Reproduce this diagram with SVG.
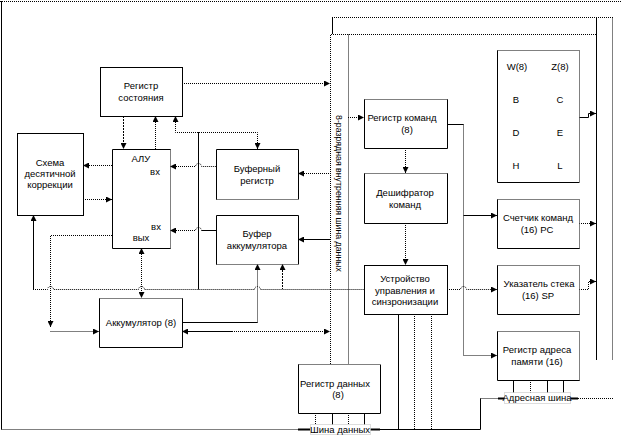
<svg xmlns="http://www.w3.org/2000/svg" width="621" height="436" viewBox="0 0 621 436">
<style>
.s{fill:none;stroke:#000;stroke-width:1}
.d{fill:none;stroke:#000;stroke-width:1;stroke-dasharray:1 1}
.ds{fill:none;stroke:#000;stroke-width:1;stroke-dasharray:2 1}
.t{stroke:#000;stroke-width:2;fill:none}
.bg{fill:#fff;stroke:none}
text{font-family:"Liberation Sans",Arial,sans-serif;font-size:9.5px;fill:#000;text-anchor:middle}
.lb{fill:#fff;stroke:#bbb;stroke-width:1;stroke-dasharray:1 1}
</style>
<defs>
<marker id="a" viewBox="0 0 6 6" refX="6" refY="3" markerWidth="6" markerHeight="6" markerUnits="userSpaceOnUse" orient="auto-start-reverse">
<path d="M0,0 L6,3 L0,6 Z" fill="#000" stroke="none"/>
</marker>
</defs>
<rect width="621" height="436" fill="#fff"/>

<g id="frame">
<path class="d" d="M0,1.5 H621"/>
<path class="s" d="M1.5,1 V429.5"/>
<path class="d" d="M1.5,429.5 H298"/>
<path class="t" d="M298,429.5 H310"/>
<path class="s" d="M370,429.5 H480.5 V398.5"/>
<path class="t" d="M370,429.5 H380"/>
<path class="d" d="M480.5,398.5 H498"/>
<path class="t" d="M498,398.5 H505 M570,398.5 H578"/>
<path class="d" d="M578,398.5 H613"/>
</g>

<g id="bus">
<path class="s" d="M332.5,34 V17.5"/>
<path class="d" d="M332,17.5 H613"/>
<path class="d" d="M330.5,364 V34.5 H596"/>
<path class="d" d="M348.5,34.5 V364"/>
<path class="d" d="M612.5,17.5 V360"/>
<path class="s" d="M596.5,17 V360"/>
<text transform="translate(335.5,115) rotate(90)" style="text-anchor:start;font-size:9px" textLength="157" lengthAdjust="spacingAndGlyphs">8-разрядная внутренняя шина данных</text>
</g>

<g id="connectors">
<path class="d" d="M182,83.5 H330" marker-end="url(#a)"/>
<path class="ds" d="M123.5,116 V149" marker-end="url(#a)"/>
<path class="d" d="M155.5,149 V116" marker-end="url(#a)"/>
<path class="d" d="M175.5,116 V132.5 H257.5 V149" marker-start="url(#a)" marker-end="url(#a)"/>
<path class="s" d="M198.5,132 V289.5"/>
<path class="d" d="M170,166.5 H195.5 a3,3 0 0 1 6,0 H216" marker-start="url(#a)"/>
<path class="d" d="M170,230.5 H195.5 a3,3 0 0 1 6,0"/>
<path class="s" d="M170,230.5 H171" marker-start="url(#a)"/>
<path class="s" d="M201.5,230.5 H216"/>
<path class="d" d="M298,173.5 H330" marker-start="url(#a)"/>
<path class="s" d="M298,239.5 H330" marker-start="url(#a)"/>
<path class="d" d="M83,165.5 H112" marker-start="url(#a)"/>
<path class="d" d="M83,199.5 H112" marker-end="url(#a)"/>
<path class="s" d="M33.5,215 V289.5" marker-start="url(#a)"/>
<path class="d" d="M33,289.5 H47.5 a3,3 0 0 1 6,0 H138.5 a3,3 0 0 1 6,0 H254.5 a3,3 0 0 1 6,0 H364"/>
<path class="ds" d="M282.5,264 V289" marker-start="url(#a)"/>
<path class="d" d="M112,235.5 H50.5 V327" marker-end="url(#a)"/>
<path class="d" d="M50.5,331.5 H99" marker-end="url(#a)"/>
<path class="d" d="M141.5,248 V298" marker-start="url(#a)" marker-end="url(#a)"/>
<path class="s" d="M182,322.5 H257.5"/>
<path class="d" d="M257.5,322.5 V264" marker-end="url(#a)"/>
<path class="s" d="M182,331.5 H232" marker-start="url(#a)"/>
<path class="d" d="M232,331.5 H330" marker-end="url(#a)"/>
<path class="d" d="M348,117.5 H364" marker-end="url(#a)"/>
<path class="d" d="M405.5,148 V173" marker-end="url(#a)"/>
<path class="d" d="M405.5,223 V265" marker-end="url(#a)"/>
<path class="s" d="M447,124.5 H463.5"/>
<path class="d" d="M463.5,124.5 V355.5 H497" marker-end="url(#a)"/>
<path class="s" d="M463.5,215.5 H497" marker-end="url(#a)"/>
<path class="d" d="M447,289.5 H460.5 a3,3 0 0 1 6,0 H497" marker-end="url(#a)"/>
<path class="s" d="M579,117.5 H588.5 V113.5 H596" marker-end="url(#a)"/>
<path class="d" d="M579,223.5 H596" marker-end="url(#a)"/>
<path class="d" d="M579,289.5 H588.5 V281.5 H596" marker-end="url(#a)"/>
<path class="s" d="M398.5,314 V429.5"/>
<path class="d" d="M414.5,314 V429.5 M431.5,314 V429.5"/>
<path class="d" d="M315.5,413 V429.5 M348.5,413 V429.5"/>
<path class="s" d="M332.5,413 V429.5 M364.5,413 V429.5"/>
<path class="s" d="M513.5,380 V398.5 M547.5,380 V398.5 M563.5,380 V398.5"/>
<path class="d" d="M530.5,380 V398.5"/>
</g>

<g id="reg-state">
<rect class="bg" x="100.5" y="67.5" width="82" height="49"/>
<rect class="s" x="100.5" y="67.5" width="82" height="49"/>
<text x="141" y="88.5">Регистр</text>
<text x="141" y="100.5">состояния</text>
</g>

<g id="decimal">
<rect class="bg" x="17.5" y="133.5" width="66" height="82"/>
<rect class="s" x="17.5" y="133.5" width="66" height="82"/>
<text x="50" y="165.5">Схема</text>
<text x="50" y="176.5">десятичной</text>
<text x="50" y="187.5">коррекции</text>
</g>

<g id="alu">
<rect class="bg" x="112.5" y="149.5" width="58" height="99"/>
<path class="s" d="M170.5,149.5 H112.5 V248.5 H170.5"/>
<path class="d" d="M170.5,149.5 V248.5"/>
<text x="141" y="161.5">АЛУ</text>
<text x="155" y="174.5">вх</text>
<text x="156" y="229.5">вх</text>
<text x="141" y="240.5">вых</text>
</g>

<g id="buf-reg">
<rect class="bg" x="216.5" y="149.5" width="82" height="50"/>
<path class="s" d="M216.5,199.5 V149.5 H298.5 V199.5"/>
<path class="d" d="M216.5,199.5 H298.5"/>
<text x="257" y="171.5">Буферный</text>
<text x="257" y="183.5">регистр</text>
</g>

<g id="buf-acc">
<rect class="bg" x="216.5" y="215.5" width="82" height="49"/>
<path class="s" d="M216.5,264.5 V215.5 H298.5 V264.5"/>
<path class="d" d="M216.5,264.5 H298.5"/>
<text x="257" y="236.5">Буфер</text>
<text x="257" y="248.5">аккумулятора</text>
</g>

<g id="acc">
<rect class="bg" x="99.5" y="298.5" width="83" height="49"/>
<path class="s" d="M99.5,298.5 V347.5 H182.5 V298.5"/>
<path class="d" d="M99.5,298.5 H182.5"/>
<text x="141" y="325.5">Аккумулятор (8)</text>
</g>

<g id="reg-cmd">
<rect class="bg" x="364.5" y="99.5" width="83" height="49"/>
<path class="s" d="M364.5,99.5 V148.5 H447.5 V99.5"/>
<path class="d" d="M364.5,99.5 H447.5"/>
<text x="402" y="120.5">Регистр команд</text>
<text x="407" y="132.5">(8)</text>
</g>

<g id="decoder">
<rect class="bg" x="364.5" y="173.5" width="83" height="50"/>
<path class="s" d="M364.5,173.5 V223.5 H447.5 V173.5"/>
<path class="d" d="M364.5,173.5 H447.5"/>
<text x="405" y="195.5">Дешифратор</text>
<text x="405" y="207.5">команд</text>
</g>

<g id="control">
<rect class="bg" x="364.5" y="265.5" width="83" height="49"/>
<rect class="s" x="364.5" y="265.5" width="83" height="49"/>
<text x="405" y="281.5">Устройство</text>
<text x="405" y="293.5">управления и</text>
<text x="405" y="304.5">синзронизации</text>
</g>

<g id="reg-data">
<rect class="bg" x="298.5" y="364.5" width="82" height="49"/>
<path class="s" d="M298.5,364.5 V413.5 H380.5 V364.5"/>
<path class="d" d="M298.5,364.5 H380.5"/>
<text x="335" y="386.5">Регистр данных</text>
<text x="338" y="397.5">(8)</text>
</g>

<g id="regfile">
<rect class="bg" x="497.5" y="50.5" width="82" height="132"/>
<path class="s" d="M497.5,50.5 V182.5 H579.5"/>
<path class="d" d="M497.5,50.5 H579.5 V182.5"/>
<text x="517" y="69.5">W(8)</text>
<text x="560" y="69.5">Z(8)</text>
<text x="516" y="102.5">B</text>
<text x="560" y="102.5">C</text>
<text x="516" y="135.5">D</text>
<text x="560" y="135.5">E</text>
<text x="516" y="168.5">H</text>
<text x="560" y="168.5">L</text>
</g>

<g id="pc">
<rect class="bg" x="497.5" y="199.5" width="82" height="49"/>
<path class="s" d="M497.5,199.5 V248.5 H579.5"/>
<path class="d" d="M497.5,199.5 H579.5 V248.5"/>
<text x="538" y="220.5">Счетчик команд</text>
<text x="537" y="232.5">(16) PC</text>
</g>

<g id="sp">
<rect class="bg" x="497.5" y="265.5" width="82" height="49"/>
<path class="s" d="M497.5,265.5 V314.5 H579.5"/>
<path class="d" d="M497.5,265.5 H579.5 V314.5"/>
<text x="539" y="286.5">Указатель стека</text>
<text x="538" y="298.5">(16) SP</text>
</g>

<g id="mar">
<rect class="bg" x="497.5" y="331.5" width="82" height="49"/>
<path class="s" d="M497.5,331.5 V380.5 H579.5"/>
<path class="d" d="M497.5,331.5 H579.5 V380.5"/>
<text x="537" y="352.5">Регистр адреса</text>
<text x="537" y="364.5">памяти (16)</text>
</g>

<g id="data-bus-label">
<rect class="lb" x="310.5" y="424.5" width="60" height="10"/>
<text x="340" y="432.5">Шина данных</text>
</g>

<g id="addr-bus-label">
<rect class="lb" x="504.5" y="392.5" width="66" height="11"/>
<text x="537" y="401">Адресная шина</text>
</g>
</svg>
